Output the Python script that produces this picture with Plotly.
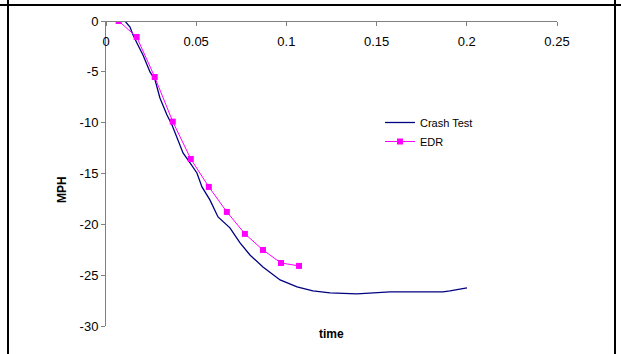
import plotly.graph_objects as go

# ---- data ----
crash_time = [0.0, 0.0105, 0.0133, 0.0150, 0.0177, 0.0205, 0.0244, 0.0272, 0.0299,
              0.0338, 0.0366, 0.0394, 0.0427, 0.0466, 0.0504, 0.0532, 0.0576, 0.0621,
              0.0687, 0.0743, 0.0798, 0.0870, 0.0965, 0.1059, 0.1147, 0.1242, 0.1391,
              0.1574, 0.1720, 0.1868, 0.1907, 0.2001]
crash_mph = [0.0, 0.0, -0.59, -1.38, -2.36, -3.34, -5.01, -5.80, -7.57,
             -9.24, -10.23, -11.41, -12.98, -13.96, -14.95, -16.32, -17.60, -19.27,
             -20.35, -21.83, -23.01, -24.19, -25.47, -26.16, -26.55, -26.75, -26.84,
             -26.65, -26.65, -26.65, -26.55, -26.25]

edr_time = [0.007, 0.017, 0.027, 0.037, 0.047, 0.057, 0.067, 0.077, 0.087, 0.097, 0.107]
edr_mph = [0.0, -1.57, -5.51, -9.9, -13.57, -16.32, -18.78, -20.94, -22.52, -23.80, -24.09]

x_tickvals = [0, 0.05, 0.1, 0.15, 0.2, 0.25]
x_ticktext = ["0", "0.05", "0.1", "0.15", "0.2", "0.25"]
y_tickvals = [0, -5, -10, -15, -20, -25, -30]
y_ticktext = ["0", "-5", "-10", "-15", "-20", "-25", "-30"]

FONT = "Liberation Sans, Arial, sans-serif"

fig = go.Figure()
fig.add_trace(go.Scatter(x=crash_time, y=crash_mph, mode="lines", name="Crash Test",
                         line=dict(color="#000080", width=1.3)))
fig.add_trace(go.Scatter(x=edr_time, y=edr_mph, mode="lines+markers", name="EDR",
                         line=dict(color="#FF00FF", width=1),
                         marker=dict(symbol="square", size=6, color="#FF00FF")))

# plot area in pixels: x 106..557, y 21..326
L, R, T, B = 106, 557, 21, 326
W, H = 621, 354

def px_x(p):
    return (p - L) / (R - L)

def px_y(p):
    return (B - p) / (B - T)

shapes = [
    dict(type="line", xref="paper", yref="paper", x0=px_x(0), x1=px_x(621), y0=px_y(5), y1=px_y(5),
         line=dict(color="black", width=2)),
    dict(type="line", xref="paper", yref="paper", x0=px_x(8), x1=px_x(8), y0=px_y(0), y1=px_y(354),
         line=dict(color="black", width=2)),
    dict(type="line", xref="paper", yref="paper", x0=px_x(615), x1=px_x(615), y0=px_y(0), y1=px_y(354),
         line=dict(color="black", width=2)),
]

annotations = [
    dict(text="<b>time</b>", xref="paper", yref="paper", x=px_x(331), y=px_y(334),
         showarrow=False, font=dict(family=FONT, size=12, color="black"),
         xanchor="center", yanchor="middle"),
    dict(text="<b>MPH</b>", xref="paper", yref="paper", x=px_x(62), y=px_y(190),
         showarrow=False, textangle=-90, font=dict(family=FONT, size=12, color="black"),
         xanchor="center", yanchor="middle"),
]

fig.update_layout(
    width=W, height=H,
    margin=dict(l=L, r=W - R, t=T, b=H - B, pad=0, autoexpand=False),
    paper_bgcolor="white", plot_bgcolor="white",
    font=dict(family=FONT, size=13, color="black"),
    showlegend=True,
    legend=dict(x=px_x(380), y=px_y(108), xanchor="left", yanchor="top",
                font=dict(family=FONT, size=11, color="black"),
                bgcolor="rgba(0,0,0,0)", borderwidth=0),
    shapes=shapes,
    annotations=annotations,
    xaxis=dict(range=[0, 0.25], side="bottom", anchor="free", position=1,
               showline=True, linecolor="#808080", linewidth=1,
               ticks="outside", ticklen=4, tickcolor="#808080",
               tickvals=x_tickvals, ticktext=x_ticktext,
               ticklabelstandoff=4, automargin=False,
               showgrid=False, zeroline=False, fixedrange=True),
    yaxis=dict(range=[-30, 0], showline=True, linecolor="#808080", linewidth=1,
               ticks="outside", ticklen=4, tickcolor="#808080",
               tickvals=y_tickvals, ticktext=y_ticktext, automargin=False,
               showgrid=False, zeroline=False, fixedrange=True),
)

fig.write_html("out.html", config={"displayModeBar": False},
               post_script="document.body.style.margin='0px';")
